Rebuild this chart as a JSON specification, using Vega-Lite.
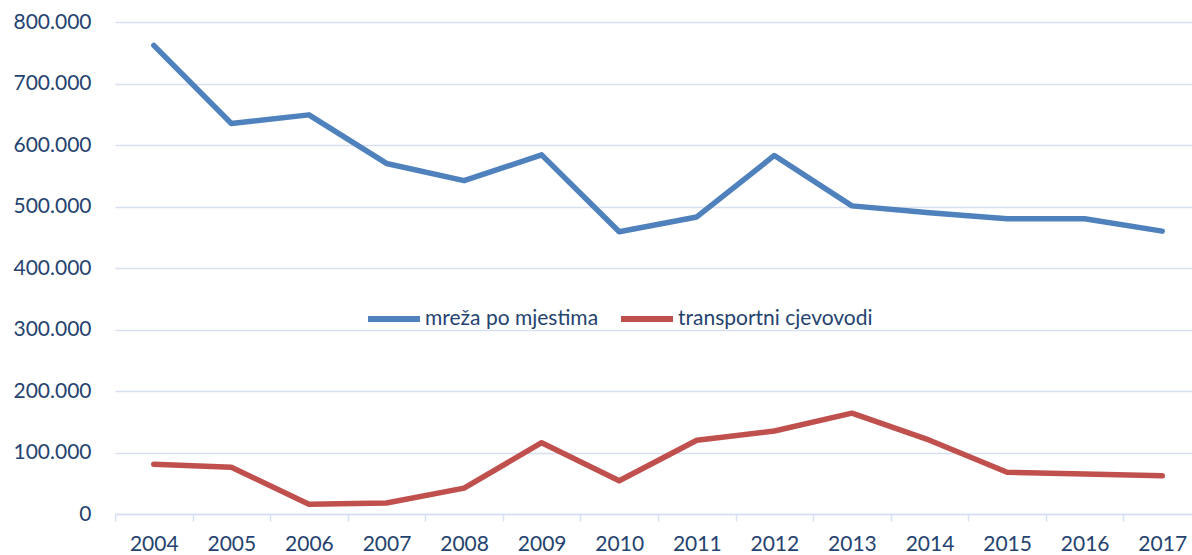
{
  "$schema": "https://vega.github.io/schema/vega-lite/v6.json",
  "width": 1086,
  "height": 492,
  "autosize": "none",
  "padding": {"left": 115, "top": 22, "right": 0, "bottom": 41},
  "background": "white",
  "config": {
    "view": {"stroke": null},
    "font": "Lato",
    "axis": {"labelFont": "Lato", "labelColor": "#25436F", "labelFontSize": 21},
    "legend": {"labelFont": "Lato", "labelColor": "#25436F", "labelFontSize": 21, "labelLimit": 0}
  },
  "data": {
    "values": [
      {"year": "2004", "series": "mreža po mjestima", "value": 762000},
      {"year": "2005", "series": "mreža po mjestima", "value": 635000},
      {"year": "2006", "series": "mreža po mjestima", "value": 649000},
      {"year": "2007", "series": "mreža po mjestima", "value": 570000},
      {"year": "2008", "series": "mreža po mjestima", "value": 542000},
      {"year": "2009", "series": "mreža po mjestima", "value": 584000},
      {"year": "2010", "series": "mreža po mjestima", "value": 459000},
      {"year": "2011", "series": "mreža po mjestima", "value": 483000},
      {"year": "2012", "series": "mreža po mjestima", "value": 583000},
      {"year": "2013", "series": "mreža po mjestima", "value": 501000},
      {"year": "2014", "series": "mreža po mjestima", "value": 490000},
      {"year": "2015", "series": "mreža po mjestima", "value": 480000},
      {"year": "2016", "series": "mreža po mjestima", "value": 480000},
      {"year": "2017", "series": "mreža po mjestima", "value": 460000},
      {"year": "2004", "series": "transportni cjevovodi", "value": 81000},
      {"year": "2005", "series": "transportni cjevovodi", "value": 76000},
      {"year": "2006", "series": "transportni cjevovodi", "value": 16000},
      {"year": "2007", "series": "transportni cjevovodi", "value": 18000},
      {"year": "2008", "series": "transportni cjevovodi", "value": 42000},
      {"year": "2009", "series": "transportni cjevovodi", "value": 116000},
      {"year": "2010", "series": "transportni cjevovodi", "value": 54000},
      {"year": "2011", "series": "transportni cjevovodi", "value": 120000},
      {"year": "2012", "series": "transportni cjevovodi", "value": 135000},
      {"year": "2013", "series": "transportni cjevovodi", "value": 164000},
      {"year": "2014", "series": "transportni cjevovodi", "value": 120000},
      {"year": "2015", "series": "transportni cjevovodi", "value": 68000},
      {"year": "2016", "series": "transportni cjevovodi", "value": 65000},
      {"year": "2017", "series": "transportni cjevovodi", "value": 62000}
    ]
  },
  "mark": {"type": "line", "strokeWidth": 5.5, "strokeCap": "round", "strokeJoin": "round"},
  "encoding": {
    "x": {
      "field": "year", "type": "ordinal", "title": null,
      "scale": {"paddingInner": 0, "paddingOuter": 0},
      "axis": {
        "labelAngle": 0, "tickBand": "extent", "ticks": true, "tickSize": 7,
        "tickColor": "#D6E0F0", "tickWidth": 1.5, "domainColor": "#D6E0F0", "domainWidth": 1.5,
        "labelPadding": 12, "grid": false
      }
    },
    "y": {
      "field": "value", "type": "quantitative", "title": null,
      "scale": {"domain": [0, 800000], "nice": false},
      "axis": {
        "values": [0, 100000, 200000, 300000, 400000, 500000, 600000, 700000, 800000],
        "labelExpr": "replace(format(datum.value, ','), /,/g, '.')",
        "ticks": false, "domain": false, "labelPadding": 24,
        "gridColor": "#D6E0F0", "gridWidth": 1.5
      }
    },
    "color": {
      "field": "series", "type": "nominal", "title": null,
      "scale": {"domain": ["mreža po mjestima", "transportni cjevovodi"], "range": ["#4F81BD", "#C0504D"]},
      "legend": {
        "orient": "none", "direction": "horizontal", "legendX": 250, "legendY": 268,
        "symbolType": "stroke", "symbolSize": 2704, "symbolStrokeWidth": 6,
        "labelOffset": 2, "columnPadding": 10
      }
    }
  }
}
